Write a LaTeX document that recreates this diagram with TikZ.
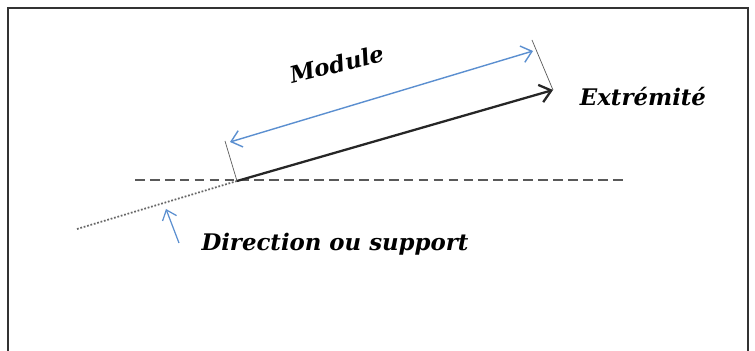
\documentclass[tikz,border=0pt]{standalone}
\usepackage{fontspec}
\setmainfont{DejaVu Serif}
\usepackage{xcolor}
\usepackage{tikz}
\usetikzlibrary{arrows.meta,positioning}
\definecolor{VecBlue}{HTML}{5B8FD0}

\begin{document}
\begin{tikzpicture}[
  x=0.02cm, y=-0.02cm,
  lbl/.style={font=\bfseries\itshape\fontsize{13}{15}\selectfont, inner sep=0pt},
  vec/.style={-{Straight Barb[length=2.2mm, width=3.6mm]}, line width=1.3pt, black!85},
  dim/.style={{Straight Barb[length=2mm, width=3.4mm]}-{Straight Barb[length=2mm, width=3.4mm]}, VecBlue, line width=0.8pt},
  tick/.style={gray!70!black, line width=0.4pt},
  axis/.style={dash pattern=on 5.5pt off 3pt, black!65, line width=0.9pt},
  supp/.style={densely dotted, black!60, line width=1pt},
  pointer/.style={-{Straight Barb[length=1.8mm, width=3mm]}, VecBlue, line width=0.7pt}
]
  \useasboundingbox (0,0) rectangle (755,351);
  % open frame
  \draw[black!80, line width=0.8pt] (8,351) -- (8,8) -- (748,8) -- (748,351);

  \coordinate (orig) at (237,181);
  \coordinate (tip) at (553,90);
  \coordinate (far) at (77,229);
  \coordinate (axl) at (135,180);
  \coordinate (axr) at (623,180);
  \coordinate (tka) at (225,141);
  \coordinate (tkb) at (532,40);
  \coordinate (mda) at (230,142);
  \coordinate (mdb) at (533,51);
  \coordinate (pta) at (179,243);
  \coordinate (ptb) at (166,209);

  \node[lbl, rotate=14] (module) at (337,64) {Module};
  \node[lbl] (extr) at (643,97) {Extrémité};
  \node[lbl] (dir) at (335,244) {Direction ou support};

  \draw[axis] (axl) -- (axr);
  \draw[supp] (far) -- (orig);
  \draw[tick] (tka) -- (orig);
  \draw[tick] (tkb) -- (tip);
  \draw[vec] (orig) -- (tip);
  \draw[dim] (mda) -- (mdb);
  \draw[pointer] (pta) -- (ptb);
\end{tikzpicture}
\end{document}
